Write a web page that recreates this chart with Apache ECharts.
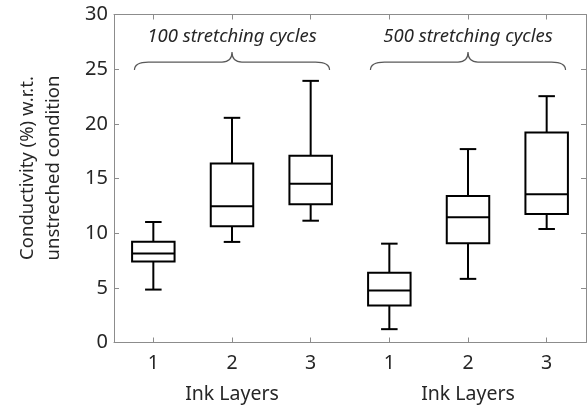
<!DOCTYPE html>
<html><head><meta charset="utf-8">
<script src="https://cdn.jsdelivr.net/npm/echarts@6.0.0/dist/echarts.min.js"></script>
<style>html,body{margin:0;padding:0;background:#fff}#c{width:587px;height:407px}</style>
</head><body><div id="c"></div>
<script>
// ---- data ----
const categories = ['1', '2', '3', '1', '2', '3'];
const whiskerLow  = [4.84, 9.20, 11.14, 1.22, 5.82, 10.38];
const q1          = [7.40, 10.63, 12.64, 3.38, 9.08, 11.75];
const median      = [8.13, 12.46, 14.52, 4.75, 11.45, 13.55];
const q3          = [9.22, 16.38, 17.08, 6.39, 13.40, 19.21];
const whiskerHigh = [11.02, 20.55, 23.93, 9.04, 17.69, 22.53];
const groupLabels = ['100 stretching cycles', '500 stretching cycles'];
const groupStart  = [0, 3];
const groupEnd    = [2, 5];
const groupCenter = [1, 4];
const xAxisTitle  = 'Ink Layers';
const yAxisTitle  = ['Conductivity (%) w.r.t.', 'unstreched condition'];
const yMin = 0, yMax = 30, yStep = 5;

const FONT = 'Noto Sans';
const TXT = '#262626';
const AX = '#8c8c8c';

const boxData = categories.map((c, i) => [i, whiskerLow[i], q1[i], median[i], q3[i], whiskerHigh[i]]);
const braceData = groupLabels.map((t, g) => [groupStart[g], groupEnd[g], groupCenter[g], t]);

const chart = echarts.init(document.getElementById('c'), null, {renderer: 'canvas'});

function renderBox(params, api) {
  const i = api.value(0);
  const band = api.size([1, 0])[0];
  const bw = band * 0.54, cw = band * 0.21;
  const pLow = api.coord([i, api.value(1)]);
  const pQ1 = api.coord([i, api.value(2)]);
  const pMed = api.coord([i, api.value(3)]);
  const pQ3 = api.coord([i, api.value(4)]);
  const pHigh = api.coord([i, api.value(5)]);
  const x = pLow[0];
  const st = {stroke: '#000', lineWidth: 2, fill: null};
  return {type: 'group', children: [
    {type: 'line', shape: {x1: x, y1: pHigh[1], x2: x, y2: pQ3[1]}, style: st},
    {type: 'line', shape: {x1: x, y1: pQ1[1], x2: x, y2: pLow[1]}, style: st},
    {type: 'line', shape: {x1: x - cw / 2, y1: pHigh[1], x2: x + cw / 2, y2: pHigh[1]}, style: st},
    {type: 'line', shape: {x1: x - cw / 2, y1: pLow[1], x2: x + cw / 2, y2: pLow[1]}, style: st},
    {type: 'rect', shape: {x: x - bw / 2, y: pQ3[1], width: bw, height: pQ1[1] - pQ3[1]}, style: {stroke: '#000', lineWidth: 2, fill: '#fff'}},
    {type: 'line', shape: {x1: x - bw / 2, y1: pMed[1], x2: x + bw / 2, y2: pMed[1]}, style: st}
  ]};
}

function renderBrace(params, api) {
  const band = api.size([1, 0])[0];
  const ext = band * 0.24;
  const xL = api.coord([api.value(0), 0])[0] - ext;
  const xR = api.coord([api.value(1), 0])[0] + ext;
  const xC = api.coord([api.value(2), 0])[0];
  const yH = api.coord([0, 25.65])[1];
  const yTip = yH + 8;
  const yPeak = yH - 10;
  const yText = api.coord([0, 28.0])[1];
  const path = `M${xL} ${yTip} Q${xL} ${yH} ${xL + 14} ${yH} L${xC - 10} ${yH} Q${xC} ${yH} ${xC} ${yPeak} Q${xC} ${yH} ${xC + 10} ${yH} L${xR - 14} ${yH} Q${xR} ${yH} ${xR} ${yTip}`;
  return {type: 'group', children: [
    {type: 'path', shape: {pathData: path}, style: {stroke: '#595959', lineWidth: 1.2, fill: null}},
    {type: 'text', x: xC, y: yText, style: {text: api.value(3), fill: TXT, font: `italic 18.5px "${FONT}"`, align: 'center', verticalAlign: 'middle'}}
  ]};
}

function renderXTitle(params, api) {
  const p = api.coord([api.value(0), yMin]);
  return {type: 'text', x: p[0], y: p[1] + 52, style: {text: xAxisTitle, fill: TXT, font: `19.5px "${FONT}"`, align: 'center', verticalAlign: 'middle'}};
}

const axisCommon = {
  axisLine: {show: true, onZero: false, lineStyle: {color: AX, width: 1}},
  axisTick: {show: true, inside: true, length: 5, lineStyle: {color: AX}},
  splitLine: {show: false}
};

chart.setOption({
  animation: false,
  backgroundColor: '#fff',
  grid: {left: 114, right: 1, top: 14.5, bottom: 64.5},
  xAxis: [
    Object.assign({type: 'category', data: categories, position: 'bottom',
      axisLabel: {color: TXT, fontSize: 19.5, fontFamily: FONT, margin: 11}}, axisCommon,
      {axisTick: {show: true, inside: true, length: 5, alignWithLabel: true, lineStyle: {color: AX}}}),
    Object.assign({type: 'category', data: categories, position: 'top',
      axisLabel: {show: false}}, axisCommon,
      {axisTick: {show: true, inside: true, length: 5, alignWithLabel: true, lineStyle: {color: AX}}})
  ],
  yAxis: [
    Object.assign({type: 'value', min: yMin, max: yMax, interval: yStep, position: 'left',
      axisLabel: {color: TXT, fontSize: 20, fontFamily: FONT, margin: 6}}, axisCommon),
    Object.assign({type: 'value', min: yMin, max: yMax, interval: yStep, position: 'right',
      axisLabel: {show: false}}, axisCommon)
  ],
  graphic: [{
    type: 'text', x: 41, y: 168, rotation: Math.PI / 2,
    style: {text: yAxisTitle.join('\n'), fill: TXT, font: `18.5px "${FONT}"`, align: 'center', verticalAlign: 'middle', lineHeight: 26}
  }],
  series: [
    {type: 'custom', renderItem: renderBox, data: boxData, clip: false, encode: {x: 0, y: [1, 2, 3, 4, 5]}},
    {type: 'custom', renderItem: renderBrace, data: braceData, clip: false, encode: {x: 2}},
    {type: 'custom', renderItem: renderXTitle, data: groupCenter.map(c => [c]), clip: false, encode: {x: 0}}
  ]
});
</script>
</body></html>
